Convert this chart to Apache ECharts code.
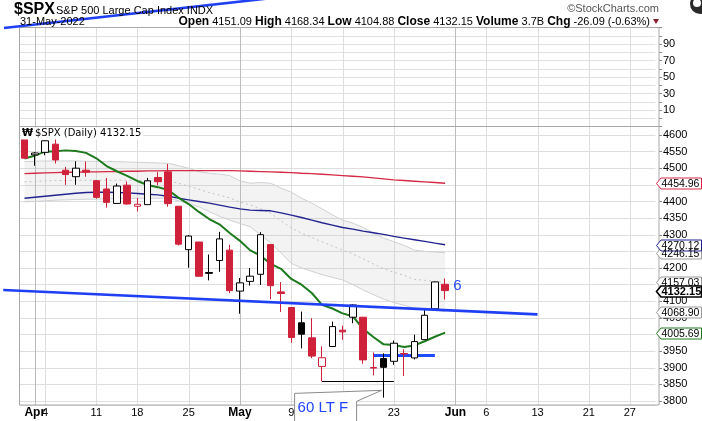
<!DOCTYPE html>
<html><head><meta charset="utf-8">
<script src="https://cdn.jsdelivr.net/npm/echarts@6.0.0/dist/echarts.min.js"></script>
<style>html,body{margin:0;padding:0;background:#fff;}#chart{width:702px;height:421px;}</style>
</head><body><div id="chart"></div>
<script>
// ---------- DATA ----------
const dates = ['2022-03-31','2022-04-01','2022-04-04','2022-04-05','2022-04-06','2022-04-07','2022-04-08','2022-04-11','2022-04-12','2022-04-13','2022-04-14','2022-04-18','2022-04-19','2022-04-20','2022-04-21','2022-04-22','2022-04-25','2022-04-26','2022-04-27','2022-04-28','2022-04-29','2022-05-02','2022-05-03','2022-05-04','2022-05-05','2022-05-06','2022-05-09','2022-05-10','2022-05-11','2022-05-12','2022-05-13','2022-05-16','2022-05-17','2022-05-18','2022-05-19','2022-05-20','2022-05-23','2022-05-24','2022-05-25','2022-05-26','2022-05-27','2022-05-31','2022-06-01','2022-06-02','2022-06-03','2022-06-06','2022-06-07','2022-06-08','2022-06-09','2022-06-10','2022-06-13','2022-06-14','2022-06-15','2022-06-16','2022-06-17','2022-06-21','2022-06-22','2022-06-23','2022-06-24','2022-06-27','2022-06-28','2022-06-29'];
const tickDates = ['2022-04-01','2022-04-04','2022-04-11','2022-04-18','2022-04-25','2022-05-02','2022-05-09','2022-05-16','2022-05-23','2022-06-01','2022-06-06','2022-06-13','2022-06-21','2022-06-27'];
const tickTexts = ['Apr','4','11','18','25','May','9','16','23','Jun','6','13','21','27'];
const monthTicks = ['2022-04-01','2022-05-02','2022-06-01'];

const open  = [4599.02,4540.32,4547.97,4572.45,4494.17,4474.65,4494.15,4462.64,4437.59,4394.30,4449.12,4385.63,4390.63,4472.26,4489.17,4385.83,4255.34,4278.14,4186.52,4222.58,4253.75,4130.61,4159.78,4181.18,4270.43,4128.17,4081.27,4035.18,3990.08,3903.95,3963.90,4013.02,4052.00,4051.98,3899.00,3927.76,3919.42,3942.94,3929.59,3984.60,4077.43,4151.09];
const high  = [4603.07,4548.70,4583.50,4593.45,4503.94,4521.16,4520.41,4464.35,4471.00,4453.92,4460.46,4410.31,4471.03,4488.29,4512.94,4385.83,4299.02,4278.14,4240.71,4308.45,4269.68,4169.81,4200.10,4307.66,4270.43,4157.69,4081.27,4068.82,4049.09,3964.80,4038.88,4026.97,4090.72,4051.98,3945.96,3943.42,3981.88,3955.68,3999.33,4075.14,4158.49,4168.34];
const low   = [4530.41,4507.57,4539.21,4514.17,4450.04,4450.30,4474.60,4408.38,4381.34,4392.70,4390.77,4370.30,4390.63,4448.76,4384.47,4267.62,4200.82,4175.04,4162.90,4188.63,4124.28,4062.51,4147.08,4148.91,4106.01,4067.91,3975.48,3958.17,3928.82,3858.87,3963.90,3983.99,4033.93,3911.91,3876.73,3810.32,3909.04,3875.13,3925.03,3984.60,4077.43,4104.88];
const close = [4530.41,4545.86,4582.64,4525.12,4481.15,4500.21,4488.28,4412.53,4397.45,4446.59,4392.59,4391.69,4462.21,4459.45,4393.66,4271.78,4296.12,4175.20,4183.96,4287.50,4131.93,4155.38,4175.48,4300.17,4146.87,4123.34,3991.24,4001.05,3935.18,3930.08,4023.89,4008.01,4088.85,3923.68,3900.79,3901.36,3973.75,3941.48,3978.73,4057.84,4158.24,4132.15];
const prevClose = 4602.45;
const volumeText = '3.7B';

const ma10  = [4529.5,4537.8,4550.0,4551.3,4553.8,4551.8,4546.3,4530.0,4506.6,4491.0,4477.2,4461.8,4449.8,4443.2,4434.5,4411.6,4392.4,4368.7,4347.3,4331.4,4305.4,4281.7,4253.0,4237.1,4212.4,4197.6,4167.1,4149.7,4124.8,4089.1,4078.3,4063.5,4054.9,4017.2,3992.6,3970.4,3968.7,3962.7,3967.1,3979.8,3993.3,4005.69];
const ma50  = [4410,4413,4416,4419,4422,4425,4427,4428,4428,4427,4426,4424,4422,4420,4416,4410,4405,4400,4395,4389,4383,4378,4374,4373,4372,4366,4359,4352,4344,4336,4329,4322,4317,4311,4306,4301,4295,4290,4285,4280,4275,4270.12];
const ma200 = [4484,4485,4486,4487,4488,4488,4489,4489,4490,4490,4491,4491,4492,4492,4493,4493,4493,4493,4493,4493,4493,4492,4491,4490,4489,4488,4487,4485,4484,4482,4480,4478,4476,4474,4471,4468,4465,4463,4461,4459,4457,4454.96];
const bandUpper  = [4520,4521,4522,4522,4522,4522,4521,4521,4520,4520,4519,4518,4517,4516,4515,4508,4500,4490,4485,4482,4478,4462,4455,4457,4455,4440,4428,4410,4395,4378,4360,4344,4335,4322,4305,4290,4279,4268,4254,4250,4248,4246.15];
const bandMiddle = [4459,4460,4462,4463,4463,4464,4464,4464,4464,4464,4464,4464,4463,4463,4462,4455,4446,4437,4427,4419,4411,4398,4390,4378,4365,4342,4321,4305,4292,4279,4266,4254,4242,4228,4212,4198,4187,4178,4166,4163,4160,4157.03];
const bandLower  = [4399,4400,4402,4404,4405,4406,4407,4407,4408,4408,4409,4410,4410,4410,4410,4402,4393,4384,4370,4356,4344,4334,4324,4300,4275,4245,4214,4200,4190,4180,4172,4164,4150,4134,4120,4106,4096,4088,4079,4076,4073,4068.90];

// annotations: [category index, price]
const trendLower = [[-2.07, 4133.8], [50, 4060.7]];
const trendUpper = [[-2.0, 4921.8], [27, 5022]];
const supportLine = [[29, 3858.87], [36, 3858.87]];
const blueLevel = [[34, 3938], [40, 3938]];
const calloutText = '60 LT F';
const calloutPoint = [35, 3832];
const waveText = '6';
const wavePoint = [41, 4146];
const oscTicks = [10, 30, 50, 70, 90];

// ---------- STYLE ----------
const RED = '#d0213a', FONT = '"Liberation Sans", Arial, sans-serif';

const candles = open.map((o, i) => {
  const c = close[i], pc = i ? close[i - 1] : prevClose;
  const col = c < pc ? RED : '#000';
  const fill = c > o ? '#fff' : col;
  return { value: [o, c, low[i], high[i]],
    itemStyle: { color: fill, color0: fill, borderColor: col, borderColor0: col, borderColorDoji: col } };
});
const bandDiff = bandUpper.map((u, i) => +(u - bandLower[i]).toFixed(2));

const chart = echarts.init(document.getElementById('chart'), null, { renderer: 'canvas', width: 702, height: 421 });
const GL = 19.37, GW = 636.12;
const lineS = (data, color, width, extra) => Object.assign({ type: 'line', xAxisIndex: 1, yAxisIndex: 1, data, symbol: 'none', silent: true,
  lineStyle: { color, width }, z: 3, animation: false }, extra || {});

chart.setOption({
  animation: false,
  grid: [
    { left: GL, width: GW, top: 27.5, height: 99 },
    { left: GL, width: GW, top: 126.5, height: 278.5 }
  ],
  xAxis: [
    { type: 'category', gridIndex: 0, data: dates, show: false },
    { type: 'category', gridIndex: 1, data: dates, boundaryGap: true,
      axisLine: { show: false }, axisTick: { show: false }, splitLine: { show: false },
      axisLabel: { show: false } }
  ],
  yAxis: [
    { type: 'value', gridIndex: 0, position: 'right', offset: 3.5, min: -10, max: 110, interval: 10,
      axisLine: { show: false }, axisTick: { show: true, length: 3, lineStyle: { color: '#888' } },
      axisLabel: { fontSize: 11, fontFamily: FONT, color: '#000', margin: 4,
        formatter: v => oscTicks.includes(v) ? String(v) : '' },
      splitLine: { lineStyle: { color: '#e0e0e0' } } },
    { type: 'value', gridIndex: 1, position: 'right', offset: 3.5, min: 3788, max: 4625.6,
      minInterval: 50, maxInterval: 50, splitNumber: 17,
      axisLine: { show: false }, axisTick: { show: true, length: 3, lineStyle: { color: '#888' } },
      axisLabel: { fontSize: 11, fontFamily: FONT, color: '#000', margin: 4, showMinLabel: false, showMaxLabel: false,
        formatter: v => String(v) },
      splitLine: { lineStyle: { color: '#dedede' } } }
  ],
  series: [
    lineS(bandLower, 'rgba(0,0,0,0)', 0, { stack: 'band', z: 1 }),
    lineS(bandDiff, 'rgba(0,0,0,0)', 0, { stack: 'band', z: 1, areaStyle: { color: 'rgba(185,185,185,0.25)' } }),
    lineS(bandUpper, '#cdd1d5', 1, { z: 1 }),
    lineS(bandLower, '#cdd1d5', 1, { z: 1 }),
    lineS(bandMiddle, '#c2c2c2', 1, { z: 1, lineStyle: { color: '#c2c2c2', width: 1, type: [2, 3] } }),
    lineS(ma200, '#d42a45', 1.4),
    lineS(ma50, '#23238f', 1.4),
    lineS(ma10, '#1d7a1d', 2),
    { type: 'candlestick', xAxisIndex: 1, yAxisIndex: 1, data: candles, barWidth: 7, z: 5, silent: true,
      itemStyle: { borderWidth: 1 },
      markLine: { symbol: 'none', silent: true, label: { show: false }, animation: false,
        data: [
          [{ coord: [dates[supportLine[0][0]], supportLine[0][1]], lineStyle: { color: '#000', width: 1, type: 'solid' } },
           { coord: [dates[supportLine[1][0]], supportLine[1][1]] }],
          [{ coord: [dates[blueLevel[0][0]], blueLevel[0][1]], lineStyle: { color: '#1f4bff', width: 3, type: 'solid' } },
           { coord: [dates[blueLevel[1][0]], blueLevel[1][1]] }]
        ] } }
  ]
});

// ---------- ANNOTATIONS (positions from the axes) ----------
const px = i => chart.convertToPixel({ xAxisIndex: 1 }, dates[i]);
const slot = px(1) - px(0);
const pxf = f => px(0) + f * slot;
const py = v => chart.convertToPixel({ yAxisIndex: 1 }, v);
const g = [];

// vertical grid lines + date labels
tickDates.forEach((d, k) => {
  const xc = px(dates.indexOf(d));
  const x = Math.round(xc) + 0.5;
  const isMonth = monthTicks.includes(d);
  g.push({ type: 'line', z: 0, silent: true, shape: { x1: x, y1: 27.5, x2: x, y2: 405 },
    style: { stroke: isMonth ? '#bcbcbc' : '#dedede', lineWidth: 1 } });
  g.push({ type: 'text', z: 12, silent: true, x: xc, y: 413,
    style: { text: tickTexts[k], font: (isMonth ? 'bold 12px ' : '11px ') + FONT, fill: '#000', align: 'center', verticalAlign: 'middle' } });
});
// frames
g.push({ type: 'rect', z: 10, silent: true, shape: { x: 19.5, y: 27.5, width: 639.5, height: 99 }, style: { fill: 'none', stroke: '#a8a8a8', lineWidth: 1 } });
g.push({ type: 'rect', z: 10, silent: true, shape: { x: 19.5, y: 126.5, width: 639.5, height: 278.5 }, style: { fill: 'none', stroke: '#a8a8a8', lineWidth: 1 } });

// trend lines
[trendLower, trendUpper].forEach(t => {
  g.push({ type: 'line', z: 20, silent: true,
    shape: { x1: pxf(t[0][0]), y1: py(t[0][1]), x2: pxf(t[1][0]), y2: py(t[1][1]) },
    style: { stroke: '#1f3ff5', lineWidth: 2.6 } });
});

// wave label
g.push({ type: 'text', z: 30, silent: true, x: pxf(wavePoint[0]) + 8, y: py(wavePoint[1]),
  style: { text: waveText, font: '15px ' + FONT, fill: '#2a4bff', verticalAlign: 'middle' } });

// callout
const tx = pxf(calloutPoint[0]) - 2, ty = py(calloutPoint[1]);
g.push({ type: 'polygon', z: 30, silent: true,
  shape: { points: [[tx, ty], [tx - 25, ty + 11], [tx - 25, 430], [tx - 87, 430], [tx - 87, ty + 3]] },
  style: { fill: '#fff', stroke: '#8a8a8a', lineWidth: 1 } });
g.push({ type: 'text', z: 31, silent: true, x: tx - 84, y: ty + 17,
  style: { text: calloutText, font: '15px ' + FONT, fill: '#2244ff', verticalAlign: 'middle' } });

// panel label
g.push({ type: 'text', z: 30, silent: true, x: 21, y: 133.5,
  style: { text: '₩', font: 'bold 10px "DejaVu Sans"', fill: '#000', verticalAlign: 'middle', backgroundColor: '#fff', padding: [1, 1] } });
g.push({ type: 'text', z: 30, silent: true, x: 33, y: 133.5,
  style: { text: '$SPX (Daily) ' + close[41].toFixed(2), font: '10px "DejaVu Sans"', fill: '#000', verticalAlign: 'middle', backgroundColor: '#fff', padding: [1, 2] } });

// header
g.push({ type: 'text', z: 40, x: 14, y: 10, style: { text: '$SPX', font: 'bold 16px "Liberation Sans Narrow", "Liberation Sans", Arial', fill: '#000', verticalAlign: 'middle' } });
g.push({ type: 'text', z: 40, x: 56, y: 11, style: { text: 'S&P 500 Large Cap Index INDX', font: '11px ' + FONT, fill: '#000', verticalAlign: 'middle' } });
g.push({ type: 'text', z: 40, x: 20, y: 21.5, style: { text: '31-May-2022', font: '11px ' + FONT, fill: '#000', verticalAlign: 'middle' } });
const L = open.length - 1, chg = close[L] - close[L - 1], pct = chg / close[L - 1] * 100;
g.push({ type: 'text', z: 40, x: 650, y: 21.5, style: {
  text: `{b|Open} ${open[L].toFixed(2)} {b|High} ${high[L].toFixed(2)} {b|Low} ${low[L].toFixed(2)} {b|Close} ${close[L].toFixed(2)} {b|Volume} ${volumeText} {b|Chg} ${chg.toFixed(2)} (${pct.toFixed(2)}%)`,
  font: '11px ' + FONT, fill: '#000', align: 'right', verticalAlign: 'middle',
  rich: { b: { fontWeight: 'bold', fontSize: 12, fontFamily: FONT, fill: '#000' } } } });
g.push({ type: 'polygon', z: 40, shape: { points: [[653, 19], [659, 19], [656, 24]] }, style: { fill: '#8b1a2b' } });
g.push({ type: 'text', z: 40, x: 659, y: 9, style: { text: '©StockCharts.com', font: '11px ' + FONT, fill: '#555', align: 'right', verticalAlign: 'middle' } });
g.push({ type: 'circle', z: 40, shape: { cx: 700, cy: 4, r: 10 }, style: { fill: '#2a2a2a' } });
g.push({ type: 'circle', z: 41, shape: { cx: 697, cy: 3, r: 4 }, style: { fill: '#fff' } });

// price tags
function tag(v, color, bold) {
  const y = Math.round(py(v)) + 0.5;
  g.push({ type: 'polygon', z: 50, silent: true,
    shape: { points: [[656.5, y], [661, y - 5.5], [701.5, y - 5.5], [701.5, y + 5.5], [661, y + 5.5]] },
    style: { fill: '#fff', stroke: color, lineWidth: bold ? 1.6 : 1 } });
  g.push({ type: 'text', z: 51, silent: true, x: 661.5, y: y + 0.5,
    style: { text: v.toFixed(2), font: (bold ? 'bold 11px ' : '10.5px ') + FONT, fill: '#000', verticalAlign: 'middle' } });
}
tag(ma200[L], '#d42a45');
tag(bandUpper[L], '#9a9a9a');
tag(ma50[L], '#23238f');
tag(bandMiddle[L], '#9a9a9a');
tag(close[L], '#000', true);
tag(bandLower[L], '#9a9a9a');
tag(ma10[L], '#1d7a1d');

chart.setOption({ graphic: g });
</script></body></html>
